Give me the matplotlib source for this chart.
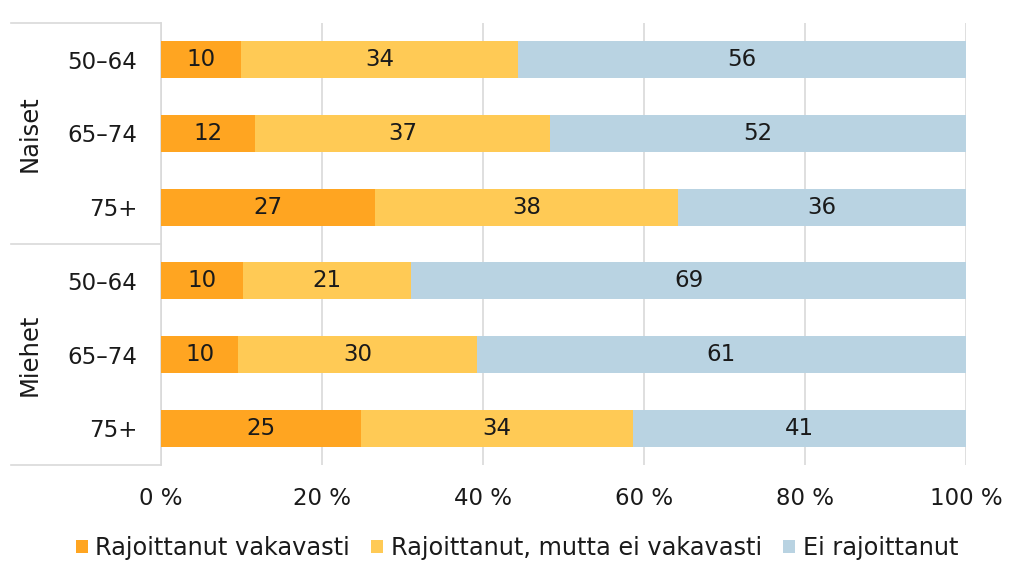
import matplotlib
matplotlib.use("Agg")
import matplotlib.pyplot as plt
from matplotlib.patches import Patch
import numpy as np

plt.rcParams['font.family'] = ['DejaVu Sans']

groups = ["Naiset", "Miehet"]
ages = ["50–64", "65–74", "75+", "50–64", "65–74", "75+"]
series_names = ["Rajoittanut vakavasti", "Rajoittanut, mutta ei vakavasti", "Ei rajoittanut"]
vakavasti = [9.95, 11.7, 26.6, 10.2, 9.6, 24.8]
lievasti = [34.45, 36.6, 37.6, 20.9, 29.6, 33.8]
ei = [55.6, 51.7, 35.8, 68.9, 60.8, 41.4]
xticks = [0, 20, 40, 60, 80, 100]
xticklabels = ["0 %", "20 %", "40 %", "60 %", "80 %", "100 %"]

colors = ["#FFA521", "#FFCA55", "#B9D3E2"]
grid_c = "#D9D9D9"
txt_c = "#1a1a1a"

fig = plt.figure(figsize=(10.24, 5.82), dpi=100)
ax = fig.add_axes([161/1024, 1-465/582, (966-161)/1024, (465-23)/582])

y = np.arange(len(ages))
left = np.zeros(len(ages))
for vals, c, name in zip([vakavasti, lievasti, ei], colors, series_names):
    bars = ax.barh(y, vals, left=left, height=0.5, color=c, label=name, zorder=3)
    ax.bar_label(bars, labels=[f"{v:.0f}" for v in vals], label_type='center',
                 fontsize=16.5, color=txt_c)
    left += np.array(vals)

ax.set_xlim(0, 100)
ax.set_ylim(5.5, -0.5)
ax.set_xticks(xticks)
ax.set_xticklabels(xticklabels, fontsize=16.5, color=txt_c)
ax.set_yticks(y)
ax.set_yticklabels(ages, fontsize=16.5, color=txt_c)
ax.tick_params(axis='both', length=0)
ax.tick_params(axis='y', pad=17)
ax.tick_params(axis='x', pad=16)
ax.xaxis.grid(True, color=grid_c, linewidth=1.2, zorder=0)
for s in ['top', 'right', 'bottom']:
    ax.spines[s].set_visible(False)
ax.spines['left'].set_color(grid_c)
ax.spines['left'].set_linewidth(1.2)

tr = ax.get_yaxis_transform()
x0 = (11 - 161) / 805
for yy in [-0.5, 2.5, 5.5]:
    ax.plot([x0, 0], [yy, yy], transform=tr, color=grid_c, linewidth=1.2, clip_on=False)
xg = (30 - 161) / 805
for g, yc in zip(groups, [1, 4]):
    ax.text(xg, yc, g, transform=tr, rotation=90, ha='center', va='center',
            fontsize=17.5, color=txt_c)

handles = [Patch(facecolor=c, edgecolor='none') for c in colors]
fig.legend(handles, series_names, loc='center', bbox_to_anchor=(517/1024, 1-548/582),
           ncol=3, frameon=False, fontsize=17.3, handlelength=0.5, handleheight=0.5,
           handletextpad=0.3, columnspacing=0.9, labelcolor=txt_c)

fig.savefig("out.png", dpi=100)
